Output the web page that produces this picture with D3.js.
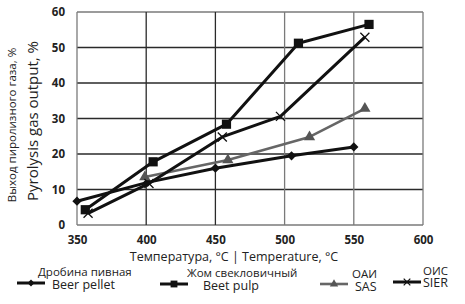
<!DOCTYPE html>
<html>
<head>
<meta charset="utf-8">
<script src="https://cdn.jsdelivr.net/npm/d3@7"></script>
<style>
  body { margin: 0; background: #fff; }
  svg { display: block; font-family: "Open Sans", sans-serif; }
</style>
</head>
<body>
<svg id="chart"></svg>
<script>
// Data
const xTicks = [350, 400, 450, 500, 550, 600];
const yTicks = [0, 10, 20, 30, 40, 50, 60];

const beerPellet = [[350, 6.7], [401, 12], [450, 16], [505, 19.5], [550, 22]];
const beetPulp = [[356, 4.3], [405, 17.8], [458, 28.4], [510, 51.2], [561, 56.5]];
const oai = [[399, 13.5], [459, 18.3], [518, 24.8], [558, 32.8]];
const oic = [[358, 3.3], [402, 11.7], [455, 24.8], [497, 30.6], [558, 52.9]];

const seriesNames = [
  ["Дробина пивная", "Beer pellet"],
  ["Жом свекловичный", "Beet pulp"],
  ["ОАИ", "SAS"],
  ["ОИС", "SIER"]
];

const width = 465, height = 304;
const marginLeft = 77, marginRight = 42, marginTop = 12, marginBottom = 79;

const svg = d3.select("#chart")
  .attr("width", width)
  .attr("height", height)
  .attr("viewBox", [0, 0, width, height]);

const x = d3.scaleLinear([350, 600], [marginLeft, width - marginRight]);
const y = d3.scaleLinear([0, 60], [height - marginBottom, marginTop]);

// grid
svg.append("g")
  .selectAll("line")
  .data(yTicks)
  .join("line")
  .attr("x1", x(350)).attr("x2", x(600))
  .attr("y1", d => y(d)).attr("y2", d => y(d))
  .attr("stroke", d => d === 0 || d === 60 ? "#7a7a7a" : "#2a2a2a")
  .attr("stroke-width", 1.3);

svg.append("g")
  .selectAll("line")
  .data(xTicks)
  .join("line")
  .attr("x1", d => x(d)).attr("x2", d => x(d))
  .attr("y1", y(0)).attr("y2", y(60))
  .attr("stroke", d => d === 400 || d === 450 ? "#2a2a2a" : "#7a7a7a")
  .attr("stroke-width", 1.3);

// axes labels
const xAxis = d3.axisBottom(x).tickValues(xTicks).tickSize(0).tickPadding(11);
svg.append("g")
  .attr("transform", `translate(0,${y(0)})`)
  .call(xAxis)
  .call(g => g.select(".domain").remove())
  .call(g => g.selectAll("text")
    .attr("font-family", "'Open Sans', sans-serif")
    .attr("font-size", 11.5).attr("font-weight", "bold").attr("fill", "#222"));

const yAxis = d3.axisLeft(y).tickValues(yTicks).tickSize(0).tickPadding(12);
svg.append("g")
  .attr("transform", `translate(${x(350)},0)`)
  .call(yAxis)
  .call(g => g.select(".domain").remove())
  .call(g => g.selectAll("text")
    .attr("font-family", "'Open Sans', sans-serif")
    .attr("font-size", 11.5).attr("font-weight", "bold").attr("fill", "#222"));

// axis titles
svg.append("text")
  .attr("x", 234).attr("y", 261)
  .attr("text-anchor", "middle")
  .attr("font-size", 12.5).attr("fill", "#222")
  .text("Температура, °C | Temperature, °C");

svg.append("text")
  .attr("transform", "translate(16,125) rotate(-90)")
  .attr("text-anchor", "middle")
  .attr("font-size", 11.5).attr("fill", "#222")
  .text("Выход пиролизного газа, %");

svg.append("text")
  .attr("transform", "translate(38,121) rotate(-90)")
  .attr("text-anchor", "middle")
  .attr("font-size", 15).attr("fill", "#222")
  .text("Pyrolysis gas output, %");

// series
const line = d3.line().x(d => x(d[0])).y(d => y(d[1]));
const series = [
  {data: beerPellet, color: "#111", w: 3, marker: d3.symbolDiamond2, size: 55},
  {data: beetPulp, color: "#111", w: 3, marker: d3.symbolSquare, size: 85},
  {data: oai, color: "#666", w: 2.6, marker: d3.symbolTriangle, size: 55},
  {data: oic, color: "#111", w: 3, marker: d3.symbolX, size: 55}
];

series.forEach(s => {
  svg.append("path")
    .datum(s.data)
    .attr("fill", "none")
    .attr("stroke", s.color)
    .attr("stroke-width", s.w)
    .attr("stroke-linejoin", "round")
    .attr("d", line);

  svg.append("g")
    .selectAll("path")
    .data(s.data)
    .join("path")
    .attr("transform", d => `translate(${x(d[0])},${y(d[1])})`)
    .attr("d", d3.symbol(s.marker, s.size))
    .attr("fill", s.marker === d3.symbolX ? "none" : (s.color === "#666" ? "#555" : "#111"))
    .attr("stroke", s.marker === d3.symbolX ? "#111" : "none")
    .attr("stroke-width", 1.3);
});

// legend
const legendPos = [
  {lx: 17, tx: 38, ty1: 276, tx2: 52, ty2: 289, my: 283},
  {lx: 160, tx: 187, ty1: 277, tx2: 203, ty2: 290, my: 284},
  {lx: 320, tx: 352, ty1: 278, tx2: 355, ty2: 291, my: 284},
  {lx: 393, tx: 423, ty1: 275, tx2: 423, ty2: 287, my: 282}
];

series.forEach((s, i) => {
  const p = legendPos[i];
  const g = svg.append("g");
  g.append("line")
    .attr("x1", p.lx).attr("x2", p.lx + 28)
    .attr("y1", p.my).attr("y2", p.my)
    .attr("stroke", s.color).attr("stroke-width", s.w);
  g.append("path")
    .attr("transform", `translate(${p.lx + 14},${p.my})`)
    .attr("d", d3.symbol(s.marker, s.size * 0.55))
    .attr("fill", s.marker === d3.symbolX ? "none" : (s.color === "#666" ? "#555" : "#111"))
    .attr("stroke", s.marker === d3.symbolX ? "#111" : "none")
    .attr("stroke-width", 1.2);
  g.append("text")
    .attr("x", p.tx).attr("y", p.ty1)
    .attr("font-size", 11.5).attr("fill", "#222")
    .text(seriesNames[i][0]);
  g.append("text")
    .attr("x", p.tx2).attr("y", p.ty2)
    .attr("font-size", 12.5).attr("fill", "#222")
    .text(seriesNames[i][1]);
});
</script>
</body>
</html>
